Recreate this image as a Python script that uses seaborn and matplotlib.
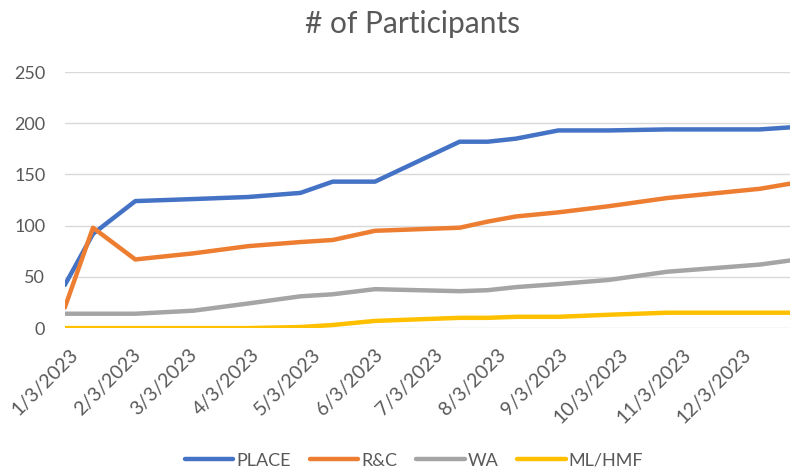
import numpy as np
import pandas as pd
import matplotlib
matplotlib.use("Agg")
import matplotlib.pyplot as plt
import matplotlib.dates as mdates
import matplotlib.transforms as mtransforms
import seaborn as sns

# data
dates = ["2023-01-03", "2023-01-17", "2023-02-07", "2023-03-08", "2023-04-04",
         "2023-04-30", "2023-05-16", "2023-06-06", "2023-07-18", "2023-08-01",
         "2023-08-15", "2023-09-05", "2023-09-30", "2023-10-29", "2023-12-14",
         "2023-12-29"]
place = [42, 92, 124, 126, 128, 132, 143, 143, 182, 182, 185, 193, 193, 194, 194, 196]
rc = [20, 98, 67, 73, 80, 84, 86, 95, 98, 104, 109, 113, 119, 127, 136, 141]
wa = [14, 14, 14, 17, 24, 31, 33, 38, 36, 37, 40, 43, 47, 55, 62, 66]
ml_hmf = [0, 0, 0, 0, 0, 1, 3, 7, 10, 10, 11, 11, 13, 15, 15, 15]

series_names = ["PLACE", "R&C", "WA", "ML/HMF"]
colors = ["#4472C4", "#ED7D31", "#A5A5A5", "#FFC000"]
tick_dates = ["2023-%d-03" % m for m in range(1, 13)]
y_ticks = [0, 50, 100, 150, 200, 250]

df = pd.DataFrame({"date": pd.to_datetime(dates), "PLACE": place, "R&C": rc,
                   "WA": wa, "ML/HMF": ml_hmf})
long_df = df.melt(id_vars="date", var_name="series", value_name="count")

sns.set_style("white")
plt.rcParams["font.family"] = ["Lato", "DejaVu Sans"]
text_color = "#595959"

fig = plt.figure(figsize=(7.9, 4.68), dpi=100)
ax = fig.add_axes([0.082, 0.299, 0.918, 0.547])

sns.lineplot(data=long_df, x="date", y="count", hue="series",
             hue_order=series_names, palette=colors, linewidth=3.2,
             ax=ax, legend=True)

ax.set_ylim(0, 250)
ax.set_yticks(y_ticks)
ax.set_xlim(df["date"].min(), df["date"].max())
ax.grid(axis="y", color="#d9d9d9", linewidth=1)
ax.set_axisbelow(True)
for s in ax.spines.values():
    s.set_visible(False)
ax.set_xlabel("")
ax.set_ylabel("")

ticks = pd.to_datetime(tick_dates)
ax.set_xticks(ticks)
ax.set_xticklabels([f"{d.month}/{d.day}/{d.year}" for d in ticks])
ax.tick_params(axis="x", length=0, pad=13, labelsize=14, labelcolor=text_color)
ax.tick_params(axis="y", length=0, pad=14, labelsize=13, labelcolor=text_color)
offset = mtransforms.ScaledTranslation(5 / 100, 0, fig.dpi_scale_trans)
for lbl in ax.get_xticklabels():
    lbl.set_rotation(45)
    lbl.set_ha("right")
    lbl.set_va("top")
    lbl.set_rotation_mode("anchor")
    lbl.set_transform(lbl.get_transform() + offset)

ax.set_title("# of Participants", fontsize=21.5, color=text_color, pad=28, x=0.479)

handles, labels = ax.get_legend_handles_labels()
ax.legend(handles, labels, loc="center", bbox_to_anchor=(0.524, 0.016),
          bbox_transform=fig.transFigure, ncol=4, frameon=False,
          fontsize=13, labelcolor=text_color, handlelength=2.7,
          handletextpad=0.15, columnspacing=1.05)

fig.savefig("out.png", dpi=100)
